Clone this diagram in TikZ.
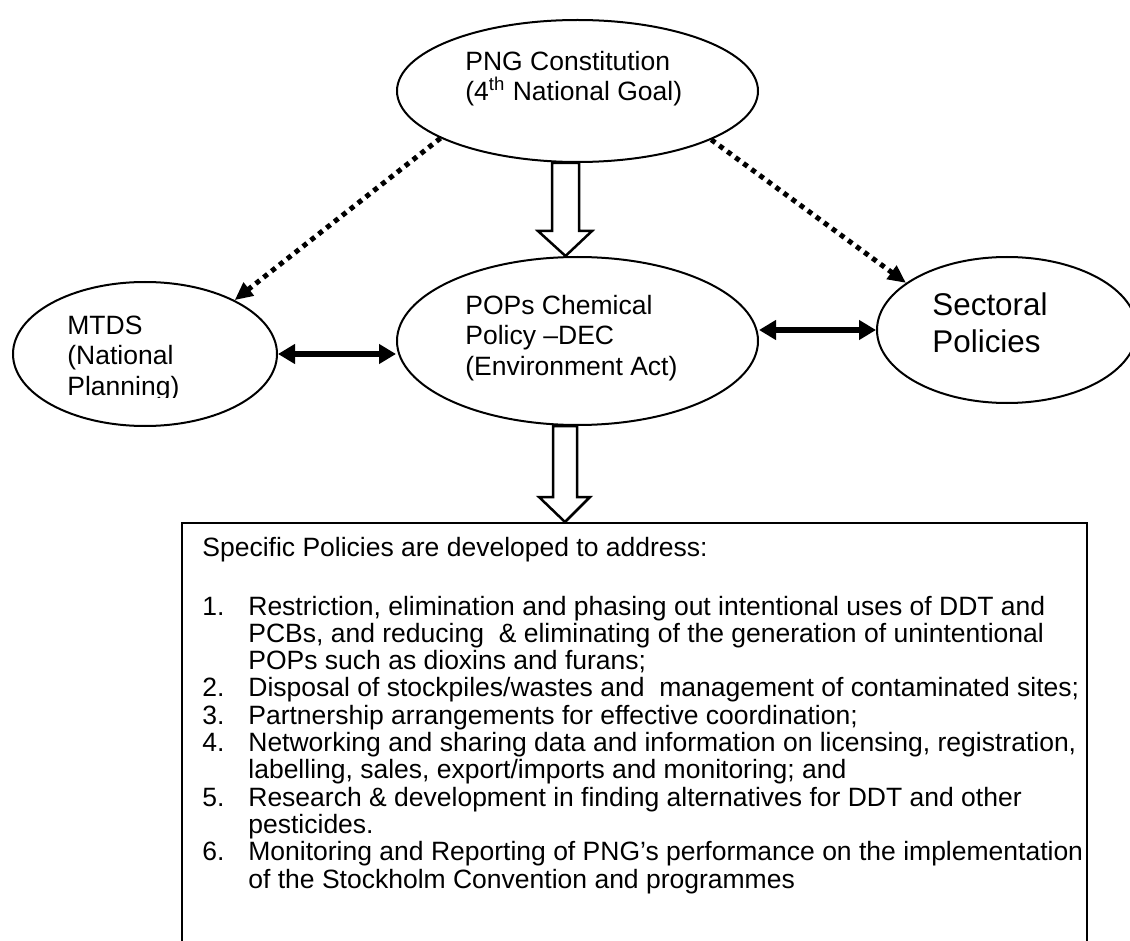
\documentclass[tikz,border=0pt]{standalone}
\usepackage{fontspec}
\setmainfont{Liberation Sans}
\usepackage{tikz}
\usetikzlibrary{
  positioning,
  arrows.meta,
  shapes.geometric,
  calc
}
\newcommand{\itemno}[1]{\makebox[23pt][l]{#1}}

\begin{document}
\begin{tikzpicture}[
  x=0.5pt, y=-0.5pt,
  % --- node styles ---
  goal/.style={draw, ellipse, line width=1pt, inner sep=0pt},
  etext/.style={anchor=base west, inner sep=0pt, align=left,
    font=\fontsize{13.25pt}{15.25pt}\selectfont},
  bigtext/.style={anchor=base west, inner sep=0pt, align=left,
    font=\fontsize{15.7pt}{18.5pt}\selectfont},
  specbox/.style={draw, line width=1pt, inner sep=0pt, anchor=north west,
    minimum width=452.5pt, minimum height=220pt},
  boxtext/.style={anchor=base west, inner sep=0pt, align=left,
    font=\fontsize{13.25pt}{13.65pt}\selectfont},
  % --- connector styles ---
  hollow/.style={draw, fill=white, line width=1.25pt, line join=miter},
  dotarr/.style={-{Triangle[length=9pt,width=8pt]}, line width=2.5pt,
    dash pattern=on 2.5pt off 2.5pt},
  both/.style={{Triangle[length=8.5pt,width=9.5pt]}-{Triangle[length=8.5pt,width=9.5pt]},
    line width=3pt},
]
\fill[white] (0,0) rectangle (1130,941);
\useasboundingbox (0,0) rectangle (1130,941);

% Row 1: constitution (text placed by its last baseline)
\node[goal, minimum width=180.5pt, minimum height=71pt] (pngc) at (577.5,91) {};
\node[etext] (pngctext) at (465,101) {PNG Constitution\\(4\textsuperscript{th} National Goal)};

% Row 2: policies
\node[goal, minimum width=180.5pt, minimum height=84pt] (pops) at (577.5,341) {};
\node[etext] (popstext) at (465,375) {POPs Chemical\\Policy –DEC\\(Environment Act)};

\node[goal, minimum width=132pt, minimum height=72pt] (mtds) at (145,354) {};
\begin{scope}
  \clip (0,0) rectangle (1130,397);
  \node[etext] (mtdstext) at (67,395) {MTDS\\(National\\Planning)};
\end{scope}

\node[goal, minimum width=130pt, minimum height=73pt] (sect) at (1007,330) {};
\node[bigtext] (secttext) at (932,352) {Sectoral\\Policies};

% Row 3: specific policies
\node[specbox] (spec) at (181,522) {};
\node[boxtext] (spectext) at (202,888) {Specific Policies are developed to address:\\[15.85pt]
\itemno{1.}Restriction, elimination and phasing out intentional uses of DDT and\\
\hspace*{23pt}PCBs, and reducing\ \ \& eliminating of the generation of unintentional\\
\hspace*{23pt}POPs such as dioxins and furans;\\
\itemno{2.}Disposal of stockpiles/wastes and\ \ management of contaminated sites;\\
\itemno{3.}Partnership arrangements for effective coordination;\\
\itemno{4.}Networking and sharing data and information on licensing, registration,\\
\hspace*{23pt}labelling, sales, export/imports and monitoring; and\\
\itemno{5.}Research \& development in finding alternatives for DDT and other\\
\hspace*{23pt}pesticides.\\
\itemno{6.}Monitoring and Reporting of PNG’s performance on the implementation\\
\hspace*{23pt}of the Stockholm Convention and programmes};

% ─── Arrows ──────────────────────────────────────────────────────────────
\draw[hollow] ($(pngc.south)+(-25.5,0)$) -- ($(pops.north)+(-25.5,-25)$) -- ++(-14,0)
  -- ($(pops.north)+(-12,0)$) -- ($(pops.north)+(14.5,-25)$) -- ++(-13,0)
  -- ($(pngc.south)+(1.5,0)$) -- cycle;

\path (pops.south) ++(-12.5,0) coordinate (d0);
\coordinate (tip2) at (d0 |- spec.north);
\draw[hollow] ($(pops.south)+(-24.5,0)$) -- ($(tip2)+(-12,-25)$) -- ++(-14,0)
  -- (tip2) -- ($(tip2)+(25,-25)$) -- ++(-13,0)
  -- ($(pops.south)+(-0.5,0)$) -- cycle;

\draw[dotarr] (pngc.199.6) -- (mtds.31);
\draw[dotarr] (pngc.340.5) -- (sect.155.2);

\draw[both] (mtds.east) -- (mtds.east -| pops.west);
\draw[both] (sect.west -| pops.east) -- (sect.west);

\end{tikzpicture}
\end{document}
